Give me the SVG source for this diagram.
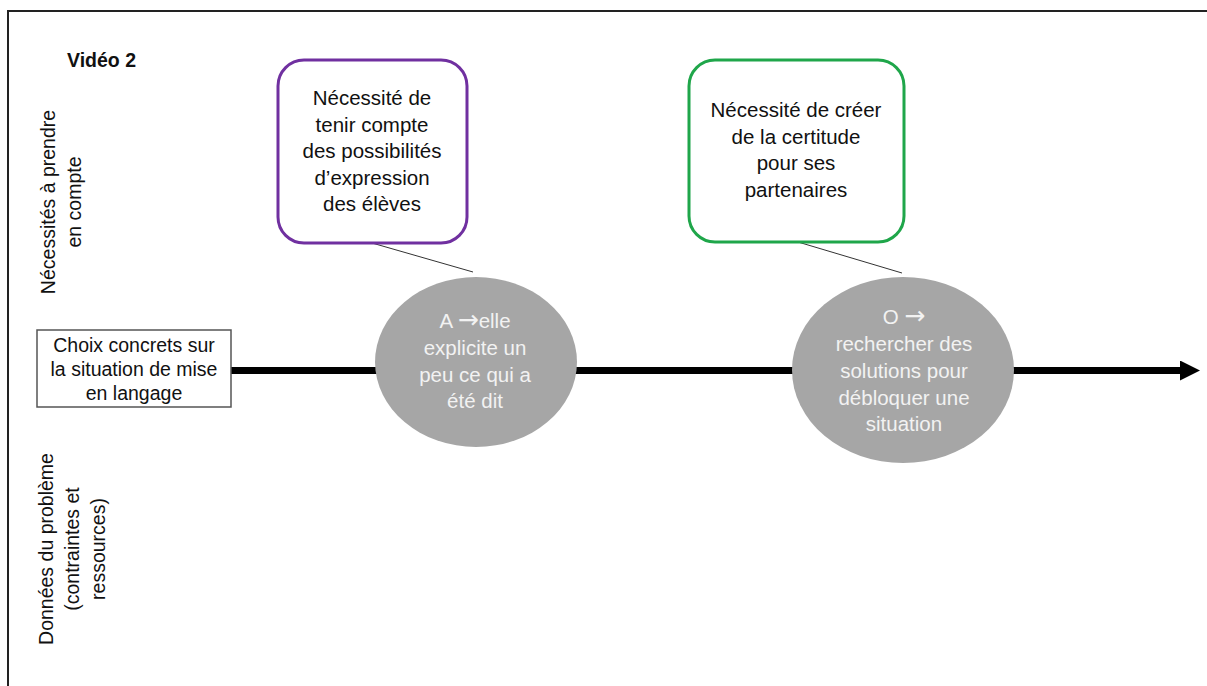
<svg xmlns="http://www.w3.org/2000/svg" width="1207" height="686" viewBox="0 0 1207 686">
<style>
text{font-family:"Liberation Sans",Arial,sans-serif;font-size:19.5px;fill:#111;}
.n{font-size:20.5px;}
.c{text-anchor:middle;}
.w{fill:#f2f2f2;}
.b{font-weight:bold;}
.ar{font-family:"DejaVu Sans",sans-serif;font-size:25px;}
.ell{fill:#a6a6a6;}
.box{fill:#fff;stroke-width:3;}
.lnk{stroke:#333;stroke-width:1;fill:none;}
</style>
<defs>
<marker id="ah" markerWidth="20" markerHeight="20" refX="0" refY="10" orient="auto" markerUnits="userSpaceOnUse">
<polygon points="0,0 20,10 0,20" fill="#000"/>
</marker>
</defs>
<rect x="8" y="11" width="1220" height="700" fill="#fff" stroke="#222" stroke-width="2"/>
<text id="title" class="b" x="67" y="67">Vidéo 2</text>
<g id="label-top">
<text class="c" transform="translate(55,202) rotate(-90)">Nécessités à prendre</text>
<text class="c" transform="translate(81,202) rotate(-90)">en compte</text>
</g>
<g id="label-bottom">
<text class="c" transform="translate(53,549) rotate(-90)">Données du problème</text>
<text class="c" transform="translate(79,549) rotate(-90)">(contraintes et</text>
<text class="c" transform="translate(105,549) rotate(-90)">ressources)</text>
</g>
<g id="connectors">
<line x1="231" y1="370.5" x2="1180" y2="370.5" stroke="#000" stroke-width="7" marker-end="url(#ah)"/>
<line class="lnk" x1="372" y1="243" x2="473" y2="272"/>
<line class="lnk" x1="798" y1="242" x2="902" y2="273"/>
</g>
<g id="start">
<rect x="37" y="330" width="194" height="77" fill="#fff" stroke="#555" stroke-width="1.5"/>
<text class="c" x="134" y="352">Choix concrets sur</text>
<text class="c" x="134" y="376">la situation de mise</text>
<text class="c" x="134" y="400">en langage</text>
</g>
<g id="event1">
<ellipse class="ell" cx="476" cy="362" rx="101" ry="85"/>
<text class="c w n" x="475" y="328">A <tspan class="ar">→</tspan>elle</text>
<text class="c w n" x="475" y="355">explicite un</text>
<text class="c w n" x="475" y="382">peu ce qui a</text>
<text class="c w n" x="475" y="408">été dit</text>
</g>
<g id="event2">
<ellipse class="ell" cx="903" cy="370" rx="111" ry="93"/>
<text class="c w n" x="904" y="324">O <tspan class="ar">→</tspan></text>
<text class="c w n" x="904" y="351">rechercher des</text>
<text class="c w n" x="904" y="378">solutions pour</text>
<text class="c w n" x="904" y="405">débloquer une</text>
<text class="c w n" x="904" y="431">situation</text>
</g>
<g id="need1">
<rect class="box" x="278" y="60" width="189" height="183" rx="26" stroke="#7030a0"/>
<text class="c n" x="372" y="105">Nécessité de</text>
<text class="c n" x="372" y="131.5">tenir compte</text>
<text class="c n" x="372" y="158">des possibilités</text>
<text class="c n" x="372" y="184.5">d’expression</text>
<text class="c n" x="372" y="211">des élèves</text>
</g>
<g id="need2">
<rect class="box" x="689" y="60" width="215" height="182" rx="26" stroke="#1fa64a"/>
<text class="c n" x="796" y="117">Nécessité de créer</text>
<text class="c n" x="796" y="143.5">de la certitude</text>
<text class="c n" x="796" y="170">pour ses</text>
<text class="c n" x="796" y="196.5">partenaires</text>
</g>
</svg>
